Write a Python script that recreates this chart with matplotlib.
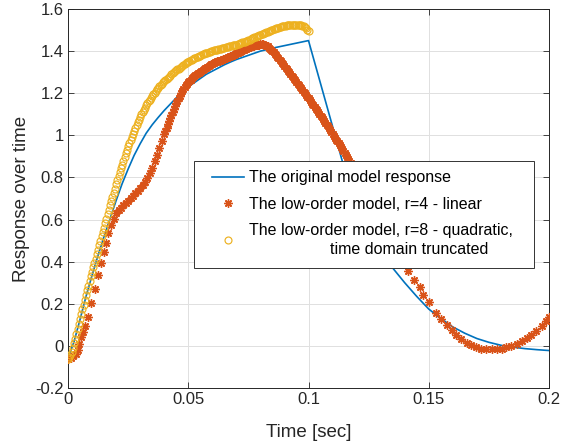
import matplotlib
matplotlib.use("Agg")
import matplotlib.pyplot as plt
from matplotlib.patches import Rectangle

plt.rcParams['font.family'] = ['Liberation Sans', 'DejaVu Sans']

# ---- original model response (line) ----
t_orig = [0.0, 0.0025, 0.005, 0.0075, 0.010, 0.0125, 0.015, 0.0175, 0.020, 0.0225,
          0.025, 0.0275, 0.030, 0.0325, 0.035, 0.0375, 0.040, 0.0425, 0.045, 0.0475,
          0.050, 0.0525, 0.055, 0.0575, 0.060, 0.0625, 0.065, 0.0675, 0.070, 0.0725,
          0.075, 0.0775, 0.080, 0.0825, 0.085, 0.0875, 0.090, 0.0925, 0.095, 0.0975,
          0.100, 0.120, 0.125, 0.130, 0.135, 0.140, 0.145, 0.150, 0.155, 0.160,
          0.165, 0.170, 0.175, 0.180, 0.185, 0.190, 0.195, 0.200]
y_orig = [-0.060, 0.020, 0.125, 0.235, 0.335, 0.430, 0.520, 0.605, 0.690, 0.770,
          0.840, 0.905, 0.960, 1.010, 1.050, 1.085, 1.118, 1.148, 1.178, 1.205,
          1.230, 1.250, 1.270, 1.290, 1.305, 1.320, 1.335, 1.348, 1.360, 1.370,
          1.380, 1.390, 1.400, 1.407, 1.414, 1.420, 1.426, 1.432, 1.438, 1.444,
          1.450, 0.635, 0.540, 0.450, 0.370, 0.300, 0.235, 0.175, 0.130, 0.090,
          0.060, 0.035, 0.017, 0.003, -0.006, -0.013, -0.018, -0.022]

# ---- low-order model r=4 linear (asterisks) ----
t_lin = [0.0, 0.0012, 0.0022, 0.0032, 0.0040, 0.0047, 0.0055, 0.0063, 0.0072, 0.0083,
         0.0097, 0.0111, 0.0123, 0.0136, 0.0148, 0.0158, 0.0168, 0.0178, 0.0190,
         0.020, 0.021, 0.022, 0.023, 0.024, 0.025, 0.026, 0.027, 0.028, 0.029,
         0.030, 0.031, 0.032, 0.033, 0.034, 0.035, 0.036, 0.037, 0.038, 0.039,
         0.0400, 0.0405, 0.0410, 0.0415, 0.0420, 0.0425, 0.0430, 0.0435, 0.0440, 0.0445,
         0.0450, 0.0455, 0.0460, 0.0465, 0.0470, 0.0475, 0.0480, 0.0485, 0.0490, 0.0495,
         0.0500, 0.0505, 0.0510, 0.0515, 0.0520, 0.0525, 0.0530, 0.0535, 0.0540, 0.0545,
         0.0550, 0.0555, 0.0560, 0.0565, 0.0570, 0.0575, 0.0580, 0.0585, 0.0590, 0.0595,
         0.0600, 0.0605, 0.0610, 0.0615, 0.0620, 0.0625, 0.0630, 0.0635, 0.0640, 0.0645,
         0.0650, 0.0655, 0.0660, 0.0665, 0.0670, 0.0675, 0.0680, 0.0685, 0.0690, 0.0695,
         0.0700, 0.0705, 0.0710, 0.0715, 0.0720, 0.0725, 0.0730, 0.0735, 0.0740, 0.0745,
         0.0750, 0.0755, 0.0760, 0.0765, 0.0770, 0.0775, 0.0780, 0.0785, 0.0790, 0.0795,
         0.0800, 0.0805, 0.0810, 0.0815, 0.0820, 0.0825, 0.0830, 0.0835, 0.0840, 0.0845,
         0.0850, 0.0855, 0.0860, 0.0865, 0.0870, 0.0875, 0.0880, 0.0885, 0.0890, 0.0895,
         0.0900, 0.0905, 0.0910, 0.0915, 0.0920, 0.0925, 0.0930, 0.0935, 0.0940, 0.0945,
         0.0950, 0.0955, 0.0960, 0.0965, 0.0970, 0.0975, 0.0980, 0.0985, 0.0990, 0.0995,
         0.1000, 0.1005, 0.1010, 0.1015, 0.1020, 0.1025, 0.1030, 0.1035, 0.1040, 0.1045,
         0.1050, 0.1055, 0.1060, 0.1065, 0.1070, 0.1075, 0.1080, 0.1085, 0.1090, 0.1095,
         0.1100, 0.1105, 0.1110, 0.1115, 0.1120, 0.1125, 0.1130, 0.1135, 0.1140, 0.1145,
         0.1150, 0.1155, 0.1160, 0.1165, 0.1170, 0.1175, 0.1180,
         0.120, 0.122, 0.124, 0.126, 0.128, 0.130, 0.132, 0.134, 0.136, 0.138,
         0.1412, 0.1438, 0.1463, 0.1477, 0.1502, 0.1532, 0.1553, 0.1574, 0.1595, 0.1615,
         0.1636, 0.1657, 0.1677, 0.1698, 0.1719, 0.1740, 0.1761, 0.1782, 0.1803, 0.1823,
         0.1844, 0.1865, 0.1886, 0.1907, 0.1927, 0.1948, 0.1969, 0.1987, 0.2000]
y_lin = [-0.060, -0.057, -0.050, -0.038, -0.018, 0.008, 0.040, 0.067, 0.095, 0.139,
         0.203, 0.271, 0.335, 0.395, 0.445, 0.490, 0.535, 0.572, 0.605,
         0.630, 0.645, 0.657, 0.668, 0.679, 0.690, 0.701, 0.712, 0.724, 0.737,
         0.750, 0.764, 0.779, 0.797, 0.820, 0.847, 0.877, 0.908, 0.940, 0.972,
         1.004, 1.020, 1.036, 1.052, 1.067, 1.082, 1.097, 1.111, 1.125, 1.139,
         1.152, 1.165, 1.177, 1.188, 1.199, 1.209, 1.219, 1.228, 1.237, 1.245,
         1.252, 1.259, 1.265, 1.271, 1.276, 1.281, 1.285, 1.290, 1.294, 1.298,
         1.302, 1.306, 1.310, 1.314, 1.318, 1.322, 1.326, 1.330, 1.333, 1.337,
         1.340, 1.343, 1.346, 1.349, 1.351, 1.353, 1.355, 1.357, 1.359, 1.361,
         1.363, 1.365, 1.367, 1.370, 1.372, 1.375, 1.377, 1.380, 1.383, 1.386,
         1.389, 1.392, 1.395, 1.398, 1.401, 1.404, 1.406, 1.409, 1.411, 1.414,
         1.416, 1.418, 1.420, 1.422, 1.424, 1.426, 1.427, 1.429, 1.430, 1.431,
         1.432, 1.432, 1.432, 1.431, 1.429, 1.426, 1.422, 1.417, 1.412, 1.406,
         1.400, 1.394, 1.387, 1.380, 1.373, 1.366, 1.359, 1.352, 1.344, 1.337,
         1.329, 1.322, 1.314, 1.307, 1.299, 1.292, 1.284, 1.277, 1.269, 1.262,
         1.254, 1.246, 1.238, 1.231, 1.223, 1.215, 1.207, 1.199, 1.191, 1.183,
         1.175, 1.167, 1.159, 1.151, 1.143, 1.135, 1.127, 1.119, 1.110, 1.102,
         1.093, 1.085, 1.076, 1.068, 1.059, 1.051, 1.042, 1.034, 1.025, 1.016,
         1.007, 0.998, 0.989, 0.980, 0.971, 0.962, 0.953, 0.944, 0.935, 0.926,
         0.916, 0.907, 0.897, 0.888, 0.878, 0.869, 0.859,
         0.820, 0.780, 0.740, 0.700, 0.655, 0.610, 0.565, 0.520, 0.470, 0.420,
         0.356, 0.313, 0.282, 0.242, 0.207, 0.158, 0.127, 0.100, 0.076, 0.052,
         0.033, 0.016, 0.003, -0.006, -0.013, -0.016, -0.016, -0.016, -0.013, -0.006,
         0.000, 0.0095, 0.022, 0.036, 0.052, 0.071, 0.095, 0.120, 0.136]

# ---- low-order model r=8 quadratic, truncated (circles) ----
t_quad = [0.0000, 0.0005, 0.0010, 0.0015, 0.0020, 0.0025, 0.0030, 0.0035, 0.0040, 0.0045,
          0.0050, 0.0055, 0.0060, 0.0065, 0.0070, 0.0075, 0.0080, 0.0085, 0.0090, 0.0095,
          0.0100, 0.0105, 0.0110, 0.0115, 0.0120, 0.0125, 0.0130, 0.0135, 0.0140, 0.0145,
          0.0150, 0.0155, 0.0160, 0.0165, 0.0170, 0.0175, 0.0180, 0.0185, 0.0190, 0.0195,
          0.0200, 0.0205, 0.0210, 0.0215, 0.0220, 0.0225, 0.0230, 0.0235, 0.0240, 0.0245,
          0.0250, 0.0255, 0.0260, 0.0265, 0.0270, 0.0275, 0.0280, 0.0285, 0.0290, 0.0295,
          0.0300, 0.0305, 0.0310, 0.0315, 0.0320, 0.0325, 0.0330, 0.0335, 0.0340, 0.0345,
          0.0350, 0.0355, 0.0360, 0.0365, 0.0370, 0.0375, 0.0380, 0.0385, 0.0390, 0.0395,
          0.0400, 0.0405, 0.0410, 0.0415, 0.0420, 0.0425, 0.0430, 0.0435, 0.0440, 0.0445,
          0.0450, 0.0455, 0.0460, 0.0465, 0.0470, 0.0475, 0.0480, 0.0485, 0.0490, 0.0495,
          0.0500, 0.0505, 0.0510, 0.0515, 0.0520, 0.0525, 0.0530, 0.0535, 0.0540, 0.0545,
          0.0550, 0.0555, 0.0560, 0.0565, 0.0570, 0.0575, 0.0580, 0.0585, 0.0590, 0.0595,
          0.0600, 0.0605, 0.0610, 0.0615, 0.0620, 0.0625, 0.0630, 0.0635, 0.0640, 0.0645,
          0.0650, 0.0655, 0.0660, 0.0665, 0.0670, 0.0675, 0.0680, 0.0685, 0.0690, 0.0695,
          0.0700, 0.0705, 0.0710, 0.0715, 0.0720, 0.0725, 0.0730, 0.0735, 0.0740, 0.0745,
          0.0750, 0.0755, 0.0760, 0.0765, 0.0770, 0.0775, 0.0780, 0.0785, 0.0790, 0.0795,
          0.0800, 0.0805, 0.0810, 0.0815, 0.0820, 0.0825, 0.0830, 0.0835, 0.0840, 0.0845,
          0.0850, 0.0855, 0.0860, 0.0865, 0.0870, 0.0875, 0.0880, 0.0885, 0.0890, 0.0895,
          0.0900, 0.0905, 0.0910, 0.0915, 0.0920, 0.0925, 0.0930, 0.0935, 0.0940, 0.0945,
          0.0950, 0.0955, 0.0960, 0.0965, 0.0970, 0.0975, 0.0980, 0.0985, 0.0990, 0.0995,
          0.1000]
y_quad = [-0.060, -0.055, -0.045, -0.030, -0.010, 0.012, 0.035, 0.058, 0.081, 0.104,
          0.127, 0.150, 0.173, 0.196, 0.219, 0.242, 0.264, 0.286, 0.308, 0.330,
          0.352, 0.373, 0.394, 0.415, 0.436, 0.457, 0.478, 0.499, 0.520, 0.541,
          0.562, 0.583, 0.604, 0.625, 0.646, 0.667, 0.687, 0.707, 0.727, 0.747,
          0.767, 0.786, 0.805, 0.824, 0.843, 0.861, 0.879, 0.897, 0.914, 0.931,
          0.947, 0.963, 0.978, 0.993, 1.008, 1.022, 1.036, 1.049, 1.062, 1.075,
          1.087, 1.099, 1.110, 1.121, 1.132, 1.142, 1.152, 1.161, 1.170, 1.179,
          1.187, 1.195, 1.203, 1.211, 1.218, 1.225, 1.232, 1.239, 1.245, 1.251,
          1.257, 1.263, 1.268, 1.274, 1.279, 1.284, 1.289, 1.294, 1.299, 1.304,
          1.308, 1.313, 1.317, 1.322, 1.326, 1.330, 1.334, 1.338, 1.342, 1.346,
          1.350, 1.354, 1.357, 1.360, 1.363, 1.366, 1.369, 1.372, 1.374, 1.377,
          1.379, 1.382, 1.384, 1.387, 1.389, 1.391, 1.393, 1.395, 1.397, 1.399,
          1.401, 1.403, 1.404, 1.406, 1.407, 1.409, 1.410, 1.412, 1.413, 1.415,
          1.416, 1.418, 1.419, 1.421, 1.422, 1.424, 1.425, 1.427, 1.428, 1.430,
          1.431, 1.433, 1.435, 1.437, 1.439, 1.441, 1.443, 1.445, 1.447, 1.450,
          1.452, 1.455, 1.457, 1.460, 1.462, 1.465, 1.467, 1.470, 1.472, 1.475,
          1.477, 1.480, 1.482, 1.485, 1.487, 1.490, 1.492, 1.495, 1.497, 1.500,
          1.502, 1.504, 1.506, 1.508, 1.510, 1.512, 1.514, 1.516, 1.517, 1.519,
          1.520, 1.521, 1.522, 1.523, 1.524, 1.525, 1.525, 1.526, 1.526, 1.526,
          1.526, 1.526, 1.525, 1.524, 1.522, 1.520, 1.517, 1.513, 1.508, 1.502,
          1.495]

labels = ['The original model response',
          'The low-order model, r=4 - linear',
          'The low-order model, r=8 - quadratic,\n                  time domain truncated']
x_ticks = [0, 0.05, 0.1, 0.15, 0.2]
x_ticklabels = ['0', '0.05', '0.1', '0.15', '0.2']
y_ticks = [-0.2, 0, 0.2, 0.4, 0.6, 0.8, 1.0, 1.2, 1.4, 1.6]
y_ticklabels = ['-0.2', '0', '0.2', '0.4', '0.6', '0.8', '1', '1.2', '1.4', '1.6']

c_blue = '#0072BD'
c_orange = '#D95319'
c_yellow = '#EDB120'
dark = '#262626'

fig = plt.figure(figsize=(5.61, 4.44), dpi=100)
ax = fig.add_axes([68/561, 1 - 388/444, (549-68)/561, (388-9)/444])

ax.plot(t_orig, y_orig, color=c_blue, lw=1.2, label=labels[0], zorder=3)
ax.plot(t_lin, y_lin, linestyle='none', marker=(8, 2, 0), ms=6.0, mew=1.0,
        color=c_orange, label=labels[1], zorder=4)
ax.plot(t_quad, y_quad, linestyle='none', marker='o', ms=5.0, mew=0.85,
        mfc='none', mec=c_yellow, label=labels[2], zorder=5)

ax.set_xlim(0, 0.2)
ax.set_ylim(-0.2, 1.6)
ax.set_xticks(x_ticks)
ax.set_xticklabels(x_ticklabels)
ax.set_yticks(y_ticks)
ax.set_yticklabels(y_ticklabels)
ax.grid(True, color='#e0e0e0', lw=0.7)
ax.set_axisbelow(True)
ax.tick_params(direction='in', length=4, width=0.6, color=dark, labelcolor=dark,
               labelsize=12, top=True, right=True, pad=3)
for s in ax.spines.values():
    s.set_color(dark)
    s.set_linewidth(0.7)

ax.set_xlabel('Time [sec]', fontsize=13.5, color=dark, labelpad=12)
ax.set_ylabel('Response over time', fontsize=13.5, color=dark, labelpad=4)

# legend box (frame) and frameless legend content on top
box = Rectangle((0.262, 0.3166), 0.7068, 0.2824, transform=ax.transAxes,
                facecolor='white', edgecolor='#333333', lw=0.7, zorder=10)
ax.add_patch(box)
leg = ax.legend(loc='upper left', bbox_to_anchor=(0.2988, 0.574),
                fontsize=11.5, frameon=False, handlelength=2.0,
                handletextpad=0.33, labelspacing=0.7, borderpad=0.0,
                borderaxespad=0.0)
leg.get_texts()[2].set_linespacing(1.35)
leg.set_zorder(11)

fig.savefig('out.png', dpi=100, facecolor='white')
